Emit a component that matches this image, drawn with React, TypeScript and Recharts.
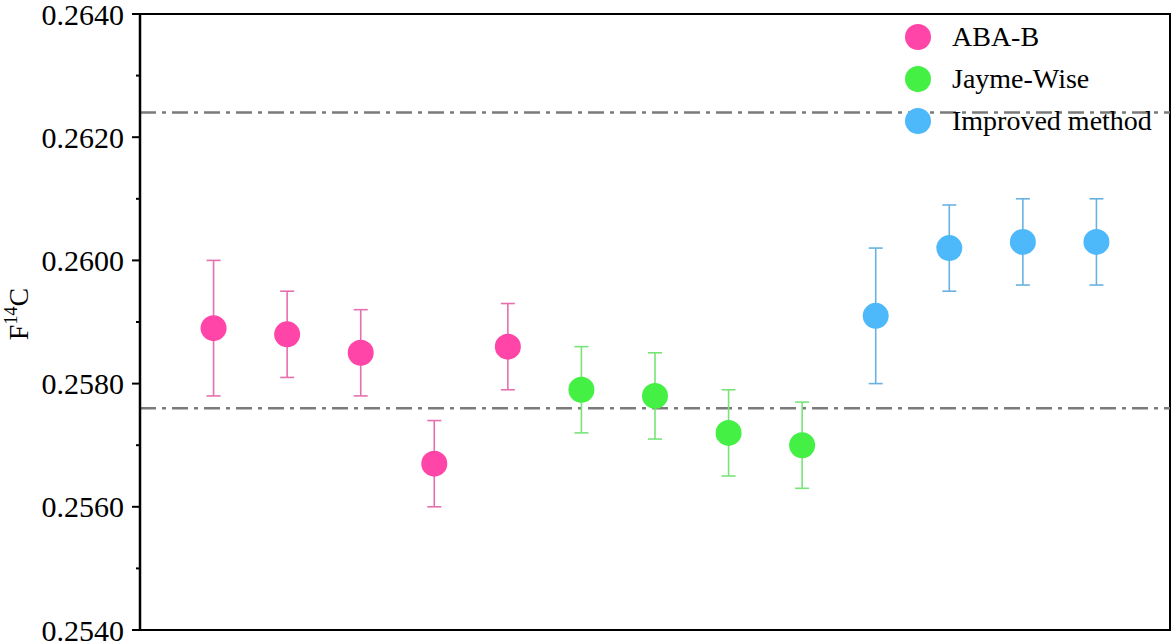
import {
  ScatterChart,
  Scatter,
  XAxis,
  YAxis,
  ErrorBar,
  ReferenceLine,
  ReferenceArea,
  Legend,
} from 'recharts'

// sample positions along the hidden x axis
const abaX = [1, 2, 3, 4, 5]
const jaymeX = [6, 7, 8, 9]
const improvedX = [10, 11, 12, 13]

// F14C values and 1-sigma errors
const abaValues = [0.2589, 0.2588, 0.2585, 0.2567, 0.2586]
const abaErrors = [0.0011, 0.0007, 0.0007, 0.0007, 0.0007]
const jaymeValues = [0.2579, 0.2578, 0.2572, 0.257]
const jaymeErrors = [0.0007, 0.0007, 0.0007, 0.0007]
const improvedValues = [0.2591, 0.2602, 0.2603, 0.2603]
const improvedErrors = [0.0011, 0.0007, 0.0007, 0.0007]

// reference band limits
const refLines = [0.2624, 0.2576]

const yTicks = [0.254, 0.255, 0.256, 0.257, 0.258, 0.259, 0.26, 0.261, 0.262, 0.263, 0.264]

const seriesNames = ['ABA-B', 'Jayme-Wise', 'Improved method']
const seriesColors = ['#FF45A8', '#44F044', '#4DB9FA']
const errorColors = ['#E670AE', '#78E478', '#68B2E2']

const FONT = '"Liberation Serif", "Times New Roman", serif'

const toPoints = (xs: number[], ys: number[], errs: number[]) =>
  xs.map((x, i) => ({ x, y: ys[i], err: errs[i] }))

const seriesData = [
  toPoints(abaX, abaValues, abaErrors),
  toPoints(jaymeX, jaymeValues, jaymeErrors),
  toPoints(improvedX, improvedValues, improvedErrors),
]

function YTick(props: any) {
  const { x, y, payload } = props
  const major = Math.round(payload.value * 10000) % 20 === 0
  return (
    <g>
      <line x1={x - (major ? 8 : 4)} x2={x} y1={y} y2={y} stroke="#000" strokeWidth={2} />
      {major && (
        <text
          x={x - 16}
          y={y}
          dy="0.35em"
          textAnchor="end"
          fontSize={30}
          fontFamily={FONT}
          fill="#000"
        >
          {payload.value.toFixed(4)}
        </text>
      )}
    </g>
  )
}

function YLabel() {
  return (
    <text
      x={28}
      y={314}
      transform="rotate(-90, 28, 314)"
      textAnchor="middle"
      fontSize={28}
      fontFamily={FONT}
      fill="#000"
    >
      F
      <tspan fontSize={18} dy={-11}>
        14
      </tspan>
      <tspan dy={11}>C</tspan>
    </text>
  )
}

function LegendBox() {
  return (
    <div style={{ fontFamily: FONT, fontSize: 28, color: '#000' }}>
      {seriesNames.map((name, i) => (
        <div key={name} style={{ display: 'flex', alignItems: 'center', height: 42 }}>
          <svg width={30} height={30} style={{ marginRight: 19 }}>
            <circle cx={15} cy={15} r={13} fill={seriesColors[i]} />
          </svg>
          <span>{name}</span>
        </div>
      ))}
    </div>
  )
}

export default function App() {
  return (
    <div style={{ position: 'fixed', left: 0, top: 0, background: '#fff' }}>
      <ScatterChart width={1174} height={641} margin={{ top: 14, right: 4, bottom: 11, left: 0 }}>
        <XAxis type="number" dataKey="x" domain={[0, 14]} hide />
        <YAxis
          type="number"
          dataKey="y"
          domain={[0.254, 0.264]}
          ticks={yTicks}
          interval={0}
          width={140}
          tickSize={0}
          tickMargin={0}
          tick={<YTick />}
          axisLine={{ stroke: '#000', strokeWidth: 2.5 }}
          label={{ content: <YLabel /> }}
        />
        <ReferenceArea
          x1={0}
          x2={14}
          y1={0.254}
          y2={0.264}
          fill="none"
          stroke="#000"
          strokeWidth={2}
          fillOpacity={0}
        />
        {refLines.map((v) => (
          <ReferenceLine
            key={v}
            y={v}
            stroke="#7a7a7a"
            strokeWidth={2.5}
            strokeDasharray="16 6 4 6"
          />
        ))}
        {seriesData.map((data, i) => (
          <Scatter
            key={seriesNames[i]}
            name={seriesNames[i]}
            data={data}
            fill={seriesColors[i]}
            isAnimationActive={false}
            shape={(p: any) => <circle cx={p.cx} cy={p.cy} r={13} fill={seriesColors[i]} />}
          >
            <ErrorBar
              dataKey="err"
              direction="y"
              width={7}
              stroke={errorColors[i]}
              strokeWidth={1.6}
            />
          </Scatter>
        ))}
        <Legend
          layout="vertical"
          align="center"
          verticalAlign="middle"
          content={<LegendBox />}
          wrapperStyle={{ position: 'absolute', left: 903, top: 16, width: 270, height: 130 }}
        />
      </ScatterChart>
    </div>
  )
}
